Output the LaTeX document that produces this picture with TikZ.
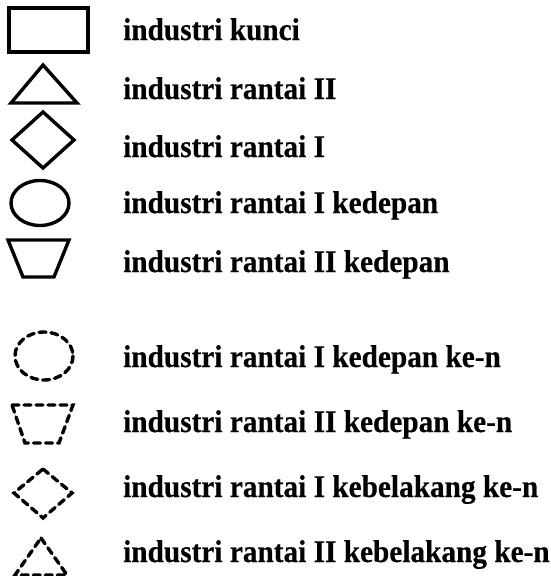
\documentclass[tikz,border=0pt]{standalone}
\usepackage{fontspec}
\setmainfont{Liberation Serif}[FakeStretch=0.93,FakeBold=0.4]
\begin{document}
\begin{tikzpicture}[x=1pt,y=-1pt,
  shp/.style={line width=3.4pt, line join=miter},
  dsh/.style={line width=3.4pt, dash pattern=on 7pt off 5pt, line cap=round},
  lbl/.style={anchor=base west, inner sep=0pt, font=\fontsize{31.5}{38}\selectfont\bfseries}]
\useasboundingbox (0,0) rectangle (551,576);
% solid shapes
\draw[shp] (9,8) rectangle (88,52);
\draw[shp] (43,65) -- (77,103) -- (11,103) -- cycle;
\draw[shp] (43,112) -- (74,140) -- (43,168) -- (12,140) -- cycle;
\draw[shp] (40,203) ellipse [x radius=29, y radius=22.5];
\draw[shp] (8,240) -- (69,240) -- (54,277) -- (23,277) -- cycle;
% dashed shapes
\draw[dsh] (44,356) ellipse [x radius=29, y radius=24];
\draw[dsh] (12,405) -- (73,405) -- (59,443) -- (25,443) -- cycle;
\draw[dsh] (43,469) -- (72,493) -- (43,518) -- (14,493) -- cycle;
\draw[dsh] (41,538) -- (67,575) -- (15,575) -- cycle;
% labels
\node[lbl] (t1) at (123,40) {industri kunci};
\node[lbl] (t2) at (123,99) {industri rantai II};
\node[lbl] (t3) at (123,157) {industri rantai I};
\node[lbl] (t4) at (123,213) {industri rantai I kedepan};
\node[lbl] (t5) at (123,272) {industri rantai II kedepan};
\node[lbl] (t6) at (123,367) {industri rantai I kedepan ke-n};
\node[lbl] (t7) at (123,432) {industri rantai II kedepan ke-n};
\node[lbl] (t8) at (123,497) {industri rantai I kebelakang ke-n};
\node[lbl] (t9) at (123,562) {industri rantai II kebelakang ke-n};
\end{tikzpicture}
\end{document}
